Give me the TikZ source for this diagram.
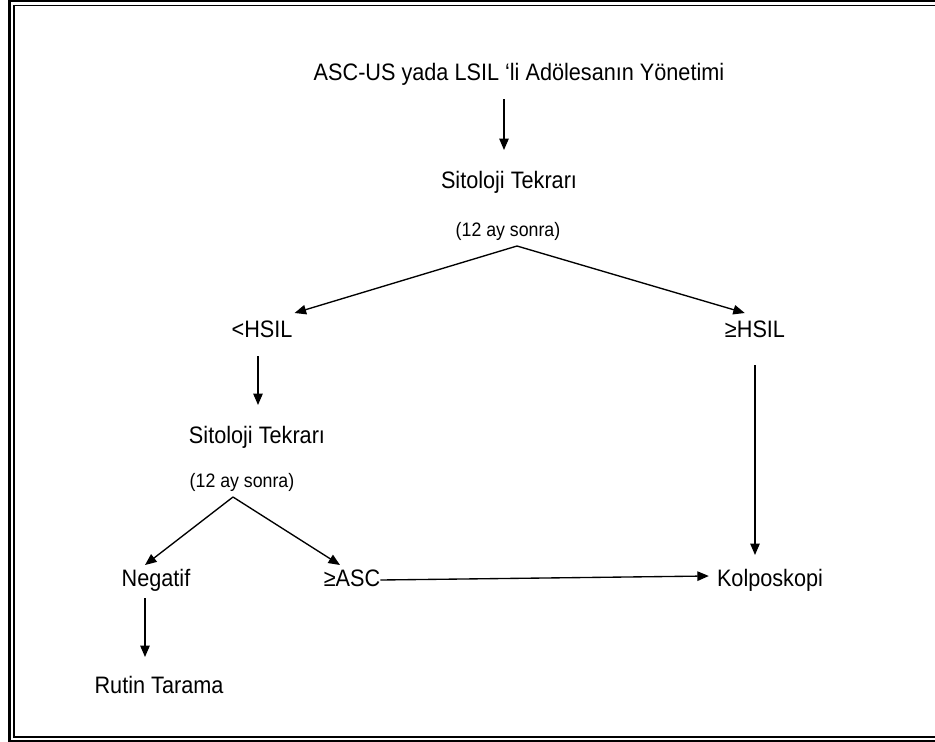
\documentclass[tikz,border=0pt]{standalone}
\usepackage{fontspec}
\setmainfont{Liberation Sans}
\newfontfamily\narrowsans[FakeStretch=0.91]{Liberation Sans}
\usetikzlibrary{arrows.meta,calc}
\begin{document}
\begin{tikzpicture}[x=1pt,y=-1pt,
  lbl/.style={inner sep=0pt,anchor=base,font=\narrowsans\fontsize{23.8}{28}\selectfont},
  note/.style={inner sep=0pt,anchor=base,font=\narrowsans\fontsize{19.5}{23}\selectfont},
  arr/.style={line width=1.35pt,-{Triangle[length=11.5pt,width=9.5pt]}},
  frame/.style={draw=black}]
\useasboundingbox (0,0) rectangle (935,742);
% double page frame, running off the right edge
\begin{scope}
  \clip (0,0) rectangle (935,742);
  \draw[frame,line width=2.6pt] (9.5,1) rectangle (950,740.8);
  \draw[frame,line width=1.8pt] (14,5.5) rectangle (945,736.8);
\end{scope}

% text nodes
\node[lbl] (title) at (519,80) {ASC-US yada LSIL ‘li Adölesanın Yönetimi};
\node[lbl] (sit1) at (509,188) {Sitoloji Tekrarı};
\node[note] (ay1) at (508,236) {(12 ay sonra)};
\node[lbl] (lo) at (262,337) {<HSIL};
\node[lbl] (hi) at (755,337) {≥HSIL};
\node[lbl] (sit2) at (257,443) {Sitoloji Tekrarı};
\node[note] (ay2) at (242,487) {(12 ay sonra)};
\node[lbl] (neg) at (156,586) {Negatif};
\node[lbl] (asc) at (352,586) {≥ASC};
\node[lbl] (kol) at (770,586) {Kolposkopi};
\node[lbl] (rut) at (159,693) {Rutin Tarama};

% branching points
\coordinate (b1) at (517,246);
\coordinate (b2) at (233,497);

% connectors
\draw[arr] ($(title.base)+(-15,19)$) -- ($(sit1.base)+(-5,-38)$);
\draw[arr] (b1) -- ($(lo.base east)+(2,-24)$);
\draw[arr] (b1) -- ($(hi.base west)+(20,-24)$);
\draw[arr] ($(lo.base)+(-4,19)$) -- ($(sit2.base)+(1,-38)$);
\draw[arr] (b2) -- ($(neg.base)+(-11,-21)$);
\draw[arr] (b2) -- ($(asc.base)+(-12,-21)$);
\draw[arr] ($(hi.base)+(0,28)$) -- ($(kol.base)+(-15,-31)$);
\draw[arr] ($(asc.base east)+(0,-6)$) -- ($(kol.base west)+(-8,-10)$);
\draw[arr] ($(neg.base)+(-11,12)$) -- ($(rut.base)+(-14,-36)$);
\end{tikzpicture}
\end{document}
